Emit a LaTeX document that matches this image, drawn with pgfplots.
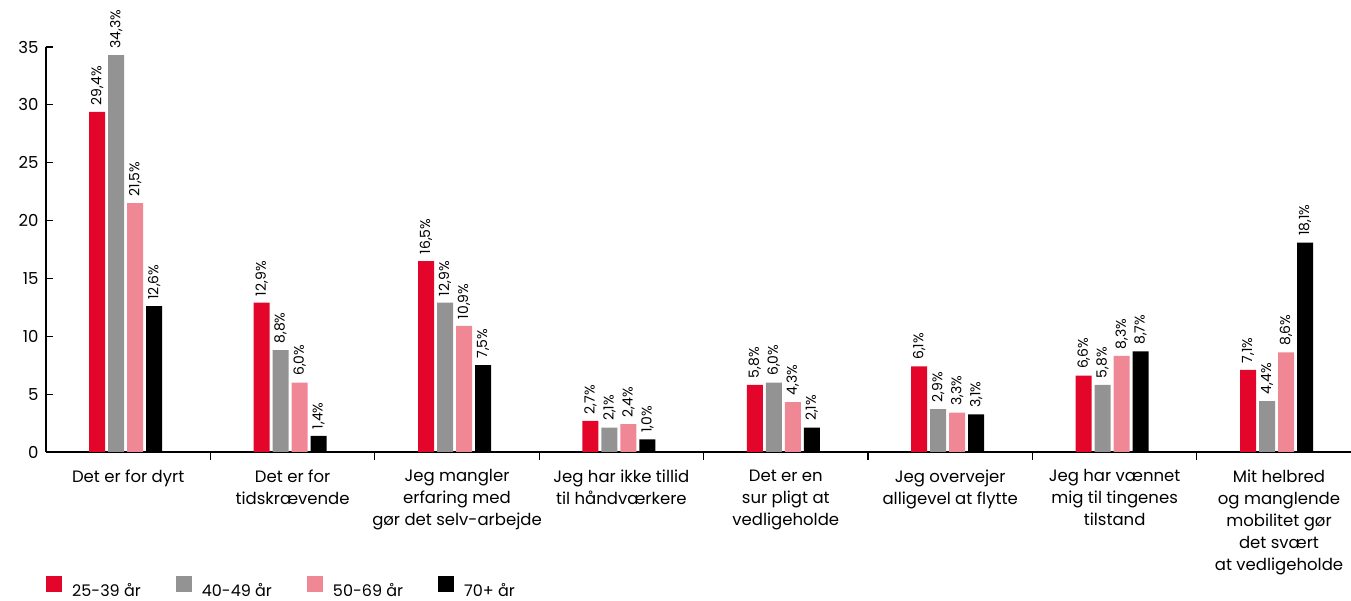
\documentclass[border=0pt]{standalone}
\usepackage{fontspec}
\setmainfont{Poppins}
\usepackage{pgfplots}
\usepackage{pgfplotstable}
\pgfplotsset{compat=1.18}
\definecolor{cred}{RGB}{228,6,42}
\definecolor{cgray}{RGB}{147,147,147}
\definecolor{cpink}{RGB}{240,135,148}
\definecolor{cblack}{RGB}{0,0,0}
\pgfplotstableread{
x  r    g    p    k     rl    gl    pl    kl
0  29.4 34.3 21.5 12.6  29,4  34,3  21,5  12,6
1  12.9 8.8  6.0  1.4   12,9  8,8   6,0   1,4
2  16.5 12.9 10.9 7.5   16,5  12,9  10,9  7,5
3  2.7  2.1  2.4  1.1   2,7   2,1   2,4   1,0
4  5.8  6.0  4.3  2.1   5,8   6,0   4,3   2,1
5  7.4  3.7  3.4  3.25  6,1   2,9   3,3   3,1
6  6.6  5.8  8.3  8.7   6,6   5,8   8,3   8,7
7  7.1  4.4  8.6  18.1  7,1   4,4   8,6   18,1
}\data
\begin{document}
\begin{tikzpicture}
\begin{axis}[
  scale only axis,
  width=1305pt, height=405pt,
  xmin=-0.5, xmax=7.438,
  ymin=0, ymax=35,
  clip=false,
  axis x line=bottom, axis y line=left,
  axis line style={-, line width=1.2pt, black},
  tick align=inside,
  major tick length=7pt,
  minor tick length=8pt,
  ytick={0,5,...,35},
  xtick={0,...,7},
  minor xtick={0.5,1.5,...,6.5},
  xtick style={draw=none},
  minor x tick style={draw=black, line width=1.2pt},
  ytick style={black, line width=1.2pt},
  /pgf/number format/assume math mode=true,
  yticklabel style={font=\fontsize{16.5}{19}\selectfont, xshift=-4pt},
  xticklabels={
    {Det er for dyrt},
    {Det er for\\tidskrævende},
    {Jeg mangler\\erfaring med\\gør det selv-arbejde},
    {Jeg har ikke tillid\\til håndværkere},
    {Det er en\\sur pligt at\\vedligeholde},
    {Jeg overvejer\\alligevel at flytte},
    {Jeg har vænnet\\mig til tingenes\\tilstand},
    {Mit helbred\\og manglende\\mobilitet gør\\det svært\\at vedligeholde}},
  xticklabel style={align=center, font=\fontsize{16.5}{22}\selectfont, yshift=-7pt},
  ybar,
  bar width=16pt,
  nodes near coords={\pgfplotspointmeta\%},
  every node near coord/.append style={rotate=90, anchor=west, inner xsep=6.5pt, inner ysep=0pt, font=\fontsize{14}{16}\selectfont, black},
  legend style={at={(0,0)}, anchor=north west, yshift=-124pt, draw=none, fill=none, inner sep=0pt,
    legend columns=4, font=\fontsize{16}{19}\selectfont,
    /tikz/every odd column/.append style={column sep=8pt},
    /tikz/every even column/.append style={column sep=33pt}},
  legend image code/.code={\fill[#1] (0pt,-1pt) rectangle (16pt,15pt);},
]
\addplot[fill=cred, draw=none, bar shift=-31pt, point meta=explicit symbolic] table[x=x, y=r, meta=rl] {\data};
\addplot[fill=cgray, draw=none, bar shift=-12pt, point meta=explicit symbolic] table[x=x, y=g, meta=gl] {\data};
\addplot[fill=cpink, draw=none, bar shift=7pt, point meta=explicit symbolic] table[x=x, y=p, meta=pl] {\data};
\addplot[fill=cblack, draw=none, bar shift=26pt, point meta=explicit symbolic] table[x=x, y=k, meta=kl] {\data};
\legend{25-39 år, 40-49 år, 50-69 år, 70+ år}
\end{axis}
\pgfresetboundingbox
\path (-46pt,-149pt) rectangle (1305pt,452pt);
\end{tikzpicture}
\end{document}
